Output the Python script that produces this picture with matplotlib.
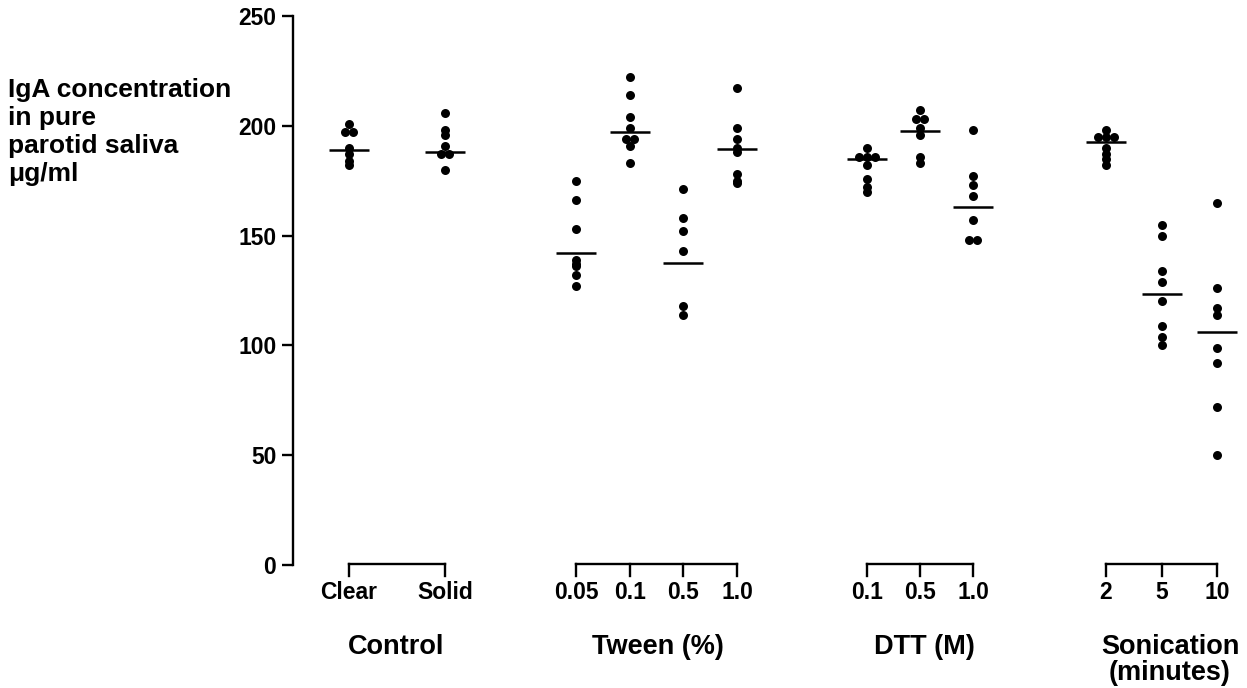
import matplotlib
matplotlib.use("Agg")
import matplotlib.pyplot as plt
from matplotlib import font_manager

# ---------------- data ----------------
groups = ["Control", "Tween (%)", "DTT (M)", "Sonication\n(minutes)"]
group_conditions = [["Clear", "Solid"],
                    ["0.05", "0.1", "0.5", "1.0"],
                    ["0.1", "0.5", "1.0"],
                    ["2", "5", "10"]]

clear_vals = [201, 197, 197, 190, 187, 184, 182]
solid_vals = [206, 198, 196, 191, 187, 187, 180]
tween_005 = [175, 166, 153, 139, 137, 136, 132, 127]
tween_01 = [222, 214, 204, 199, 194, 194, 191, 183]
tween_05 = [171, 158, 152, 143, 118, 114]
tween_10 = [217, 199, 194, 190, 188, 178, 175, 174]
dtt_01 = [190, 186, 186, 186, 182, 176, 172, 170]
dtt_05 = [207, 203, 203, 199, 196, 186, 183]
dtt_10 = [198, 177, 173, 168, 157, 148, 148]
son_2 = [198, 195, 195, 195, 190, 187, 185, 182]
son_5 = [155, 150, 134, 129, 120, 109, 104, 100]
son_10 = [165, 126, 117, 114, 99, 92, 72, 50]

series = [clear_vals, solid_vals, tween_005, tween_01, tween_05, tween_10,
          dtt_01, dtt_05, dtt_10, son_2, son_5, son_10]
mean_lines = [189, 188, 142, 197, 137.5, 189.4, 185, 197.6, 163, 192.6, 123.3, 106]

y_ticks = [0, 50, 100, 150, 200, 250]
y_label = "IgA concentration\nin pure\nparotid saliva\nμg/ml"

# ---------------- layout (pixels) ----------------
W, H = 1247, 688
group_start = [349, 576, 867, 1106]
group_step = [96, 53.7, 53, 55.5]
group_label_x = [396, 658, 924, 1170]

positions = []
for g, conds in enumerate(group_conditions):
    for i in range(len(conds)):
        positions.append(group_start[g] + i * group_step[g])

avail = {f.name for f in font_manager.fontManager.ttflist}
fam = "Liberation Sans" if "Liberation Sans" in avail else "DejaVu Sans"
plt.rcParams['font.family'] = [fam, 'DejaVu Sans']

fig = plt.figure(figsize=(W / 100, H / 100), dpi=100)
ax_left, ax_right = 293, W
ax_bottom, ax_top = 565, 16
ax = fig.add_axes([ax_left / W, 1 - ax_bottom / H, (ax_right - ax_left) / W,
                   (ax_bottom - ax_top) / H])
ax.set_xlim(ax_left, ax_right)
ax.set_ylim(0, 250)
ax.patch.set_alpha(0)

for pos, vals, m in zip(positions, series, mean_lines):
    counts = {}
    for v in vals:
        counts[v] = counts.get(v, 0) + 1
    seen = {}
    xs = []
    for v in vals:
        n = counts[v]
        k = seen.get(v, 0)
        seen[v] = k + 1
        xs.append(pos + (k - (n - 1) / 2) * 8)
    ax.scatter(xs, vals, s=42, color="black", zorder=3, linewidths=0,
               clip_on=False)
    ax.plot([pos - 20, pos + 20], [m, m], color="black", lw=1.8, zorder=2,
            solid_capstyle="butt")

for s in ["top", "right", "bottom"]:
    ax.spines[s].set_visible(False)
ax.spines["left"].set_linewidth(1.7)
ax.set_yticks(y_ticks)
ax.set_yticklabels([str(t) for t in y_ticks], fontsize=16.5, fontweight="bold")
ax.tick_params(axis="y", length=8, width=1.7, pad=4)
ax.set_xticks([])


def fx(px):
    return px / W


def fy(py):
    return 1 - py / H


idx = 0
for g, conds in enumerate(group_conditions):
    xs = positions[idx: idx + len(conds)]
    fig.add_artist(plt.Line2D([fx(xs[0]), fx(xs[-1])], [fy(564), fy(564)],
                              color="black", lw=1.7, transform=fig.transFigure,
                              solid_capstyle="projecting"))
    for x, c in zip(xs, conds):
        fig.add_artist(plt.Line2D([fx(x), fx(x)], [fy(564), fy(576)],
                                  color="black", lw=1.7, transform=fig.transFigure))
        fig.text(fx(x), fy(599), c, ha="center", va="baseline", fontsize=16.5,
                 fontweight="bold")
    lines = groups[g].split("\n")
    for j, line in enumerate(lines):
        fig.text(fx(group_label_x[g]), fy(654 + 26 * j), line, ha="center",
                 va="baseline", fontsize=19.5, fontweight="bold")
    idx += len(conds)

for j, line in enumerate(y_label.split("\n")):
    fig.text(fx(8), fy(97 + 28 * j), line, ha="left", va="baseline",
             fontsize=19, fontweight="bold")

fig.savefig("out.png", dpi=100, facecolor="white")
